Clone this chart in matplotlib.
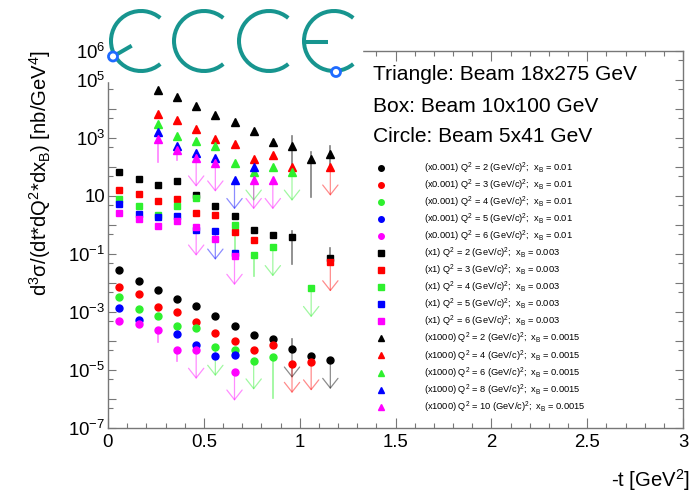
import numpy as np
import matplotlib
matplotlib.use("Agg")
import matplotlib.pyplot as plt
from matplotlib.lines import Line2D
from matplotlib.patches import Arc, Circle, Rectangle
from matplotlib.ticker import FixedLocator, FixedFormatter, MultipleLocator

plt.rcParams['font.family'] = ['Liberation Sans', 'DejaVu Sans']
plt.rcParams['mathtext.default'] = 'regular'

nan = np.nan

# -t bin centres [GeV^2]
t_bins = [0.06, 0.16, 0.26, 0.36, 0.46, 0.56, 0.66, 0.76, 0.86, 0.96, 1.06, 1.16]

# black, red, green, blue, magenta (ROOT palette)
series_colors = ['#000000', '#ff0000', '#2ef02e', '#0000ff', '#ff00ff']

# circles: 5x41 GeV, xB = 0.01, drawn x0.001
circ_q2 = [2, 3, 4, 5, 6]
circ_vals = [
    [2.7e-2, 1.2e-2, 5.9e-3, 2.8e-3, 1.55e-3, 7.2e-4, 3.2e-4, 1.66e-4, 1.2e-4, 5.4e-5, 3.0e-5, 2.2e-5],
    [7.2e-3, 4.1e-3, 1.5e-3, 9.8e-4, 4.6e-4, 1.9e-4, 1.0e-4, 4.9e-5, 7.1e-5, 1.6e-5, 1.95e-5, nan],
    [3.4e-3, 1.23e-3, 7.1e-4, 3.2e-4, 2.7e-4, 6.2e-5, 4.9e-5, 2.1e-5, 2.7e-5, nan, nan, nan],
    [1.35e-3, 5.1e-4, nan, 1.7e-4, 7.4e-5, 3.0e-5, 3.3e-5, nan, nan, nan, nan, nan],
    [5.0e-4, 3.8e-4, 2.4e-4, 4.9e-5, 4.9e-5, nan, 8.7e-6, nan, nan, nan, nan, nan],
]
circ_limits = [[9, 11], [9, 10], [5, 7], [], [4, 6]]
circ_bars = [(2, 8, 1.1e-6, 3.0e-5), (0, 9, 5.4e-5, 1.2e-4),
             (4, 2, 9.1e-5, 2.6e-4), (4, 3, 2.1e-5, 5.5e-5)]

# squares: 10x100 GeV, xB = 0.003, drawn x1
sq_q2 = [2, 3, 4, 5, 6]
sq_vals = [
    [65, 38, 23.5, 34, 10.5, 4.7, 2.05, 0.69, 0.44, 0.38, nan, 0.074],
    [16.6, 12, 6.7, 7.8, 2.5, 2.3, 0.59, 0.30, nan, nan, nan, 0.051],
    [8.1, 4.7, 2.2, 4.6, 8.5, nan, 1.0, 0.094, 0.17, nan, 6.6e-3, nan],
    [5.4, 2.35, 1.85, 2.0, 0.68, 0.63, 0.105, nan, nan, nan, nan, nan],
    [2.6, 1.66, 0.94, 1.4, 0.87, 0.33, 0.085, nan, nan, nan, nan, nan],
]
sq_limits = [[], [11], [8, 10], [5], [4, 6]]
sq_bars = [(0, 9, 0.045, 0.63), (2, 7, 0.017, 0.094), (0, 11, 0.074, 0.166),
           (2, 6, 0.07, 1.0)]

# triangles: 18x275 GeV, xB = 0.0015, drawn x1000
tri_q2 = [2, 4, 6, 8, 10]
tri_vals = [
    [nan, nan, 4.6e4, 2.5e4, 1.26e4, 6.0e3, 3.6e3, 1.8e3, 725, 510, 185, 283],
    [nan, nan, 6.5e3, 4.1e3, 2.05e3, 945, 630, 185, 260, 102, nan, 102],
    [nan, nan, 3.1e3, 1.14e3, 800, 540, 134, 68, 102, 68, nan, nan],
    [nan, nan, 1.57e3, 510, 300, 210, 35, 102, nan, nan, nan, nan],
    [nan, nan, 920, 390, 210, 141, nan, 35, 35, nan, nan, nan],
]
tri_limits = [[], [11], [7, 9], [6], [4, 5, 7, 8]]
tri_bars = [(0, 10, 9.2, 340), (0, 9, 78, 1140), (4, 2, 152, 920),
            (4, 3, 175, 390), (0, 11, 102, 540)]

ARROW_DECADES = 1.0
W, H = 695, 495

fig = plt.figure(figsize=(W / 100, H / 100), dpi=100)
ax = fig.add_axes([108 / W, 1 - 428 / H, (683 - 108) / W, (428 - 51) / H])


def draw_group(vals, limits, bars, marker, ms):
    for k, (row, col) in enumerate(zip(vals, series_colors)):
        ax.plot(t_bins, row, ls='none', marker=marker, ms=ms, color=col,
                mec=col, zorder=4)
        for b in limits[k]:
            ax.annotate('', xy=(t_bins[b], row[b] / 10 ** ARROW_DECADES),
                        xytext=(t_bins[b], row[b]),
                        arrowprops=dict(arrowstyle='->,head_length=0.7,head_width=0.55',
                                        color=col, alpha=0.45, lw=0.9,
                                        shrinkA=0, shrinkB=0), zorder=3)
    for k, b, lo, hi in bars:
        ax.plot([t_bins[b], t_bins[b]], [lo, hi], color=series_colors[k],
                alpha=0.5, lw=1.2, zorder=3)


draw_group(circ_vals, circ_limits, circ_bars, 'o', 5.0)
draw_group(sq_vals, sq_limits, sq_bars, 's', 4.8)
draw_group(tri_vals, tri_limits, tri_bars, '^', 5.3)

ax.set_yscale('log')
ax.set_xlim(0, 3)
ax.set_ylim(1e-7, 1e6)

exps = list(range(-7, 7))
ylabels = []
for e in exps:
    if e == 1:
        ylabels.append('10')
    elif e % 2 != 0 or e == 6:
        ylabels.append('10$^{%d}$' % e)
    else:
        ylabels.append('')
ax.yaxis.set_major_locator(FixedLocator([10.0 ** e for e in exps]))
ax.yaxis.set_major_formatter(FixedFormatter(ylabels))
ax.yaxis.set_minor_locator(FixedLocator([5 * 10.0 ** e for e in range(-8, 6)]))
ax.yaxis.set_minor_formatter(FixedFormatter([]))
ax.xaxis.set_major_locator(MultipleLocator(0.5))
ax.xaxis.set_minor_locator(MultipleLocator(0.1))
ax.xaxis.set_major_formatter(matplotlib.ticker.FuncFormatter(lambda v, p: '%g' % v))

frame_col = '#777777'
for s in ax.spines.values():
    s.set_color(frame_col)
    s.set_linewidth(1.0)
ax.tick_params(axis='both', which='both', direction='in', top=True, right=True,
               color=frame_col, width=0.8, labelsize=13.4)
ax.tick_params(axis='x', which='major', length=7.2, pad=4)
ax.tick_params(axis='x', which='minor', length=3.6)
ax.tick_params(axis='y', which='major', length=5.8, pad=2)
ax.tick_params(axis='y', which='minor', length=3.6)

# legend
handles, labels = [], []
for q2, col in zip(circ_q2, series_colors):
    handles.append(Line2D([], [], ls='none', marker='o', ms=4, color=col))
    labels.append('(x0.001) Q$^2$ = %d (GeV/c)$^2$;  x$_B$ = 0.01' % q2)
for q2, col in zip(sq_q2, series_colors):
    handles.append(Line2D([], [], ls='none', marker='s', ms=4, color=col))
    labels.append('(x1) Q$^2$ = %d (GeV/c)$^2$;  x$_B$ = 0.003' % q2)
for q2, col in zip(tri_q2, series_colors):
    handles.append(Line2D([], [], ls='none', marker='^', ms=4, color=col))
    labels.append('(x1000) Q$^2$ = %d (GeV/c)$^2$;  x$_B$ = 0.0015' % q2)
ax.legend(handles, labels, loc='upper left', bbox_to_anchor=(378 / W, 1 - 160.5 / H),
          bbox_transform=fig.transFigure, frameon=False, fontsize=6.7,
          labelspacing=0.19, handlelength=0.7, handletextpad=4.2,
          borderpad=0, borderaxespad=0)

# overlay in pixel units for titles and the logo
ov = fig.add_axes([0, 0, 1, 1], zorder=5)
ov.set_xlim(0, W)
ov.set_ylim(H, 0)
ov.axis('off')
ov.patch.set_alpha(0)

ov.text(40, 50, 'd$^3$σ/(dt*dQ$^2$*dx$_B$) [nb/GeV$^4$]', rotation=90,
        ha='center', va='top', fontsize=14.6)
ov.text(690, 487, '-t [GeV$^2$]', ha='right', va='baseline', fontsize=14.6)
for txt, yb in [('Triangle: Beam 18x275 GeV', 80), ('Box: Beam 10x100 GeV', 111.7),
                ('Circle: Beam 5x41 GeV', 141.7)]:
    ov.text(373, yb, txt, ha='left', va='baseline', fontsize=15.1)

# logo on a white patch
teal = '#17958f'
blue = '#1f6bff'
ov.add_patch(Rectangle((106, 0), 256, 81, color='white', zorder=1))
r = 30
for cx in [141, 204, 269, 334]:
    ov.add_patch(Arc((cx, 41), 2 * r, 2 * r, theta1=50, theta2=310,
                     color=teal, lw=2.9, zorder=2))
ov.plot([131.7, 113], [45.7, 56.5], color=teal, lw=2.9, solid_capstyle='butt', zorder=2)
ov.plot([304, 328], [42, 42], color=teal, lw=2.9, solid_capstyle='butt', zorder=2)
for cx, cy in [(113, 56.5), (336, 72)]:
    ov.add_patch(Circle((cx, cy), 4.5, facecolor='white', edgecolor=blue,
                        lw=2.0, zorder=3))

fig.savefig('out.png', dpi=100)
